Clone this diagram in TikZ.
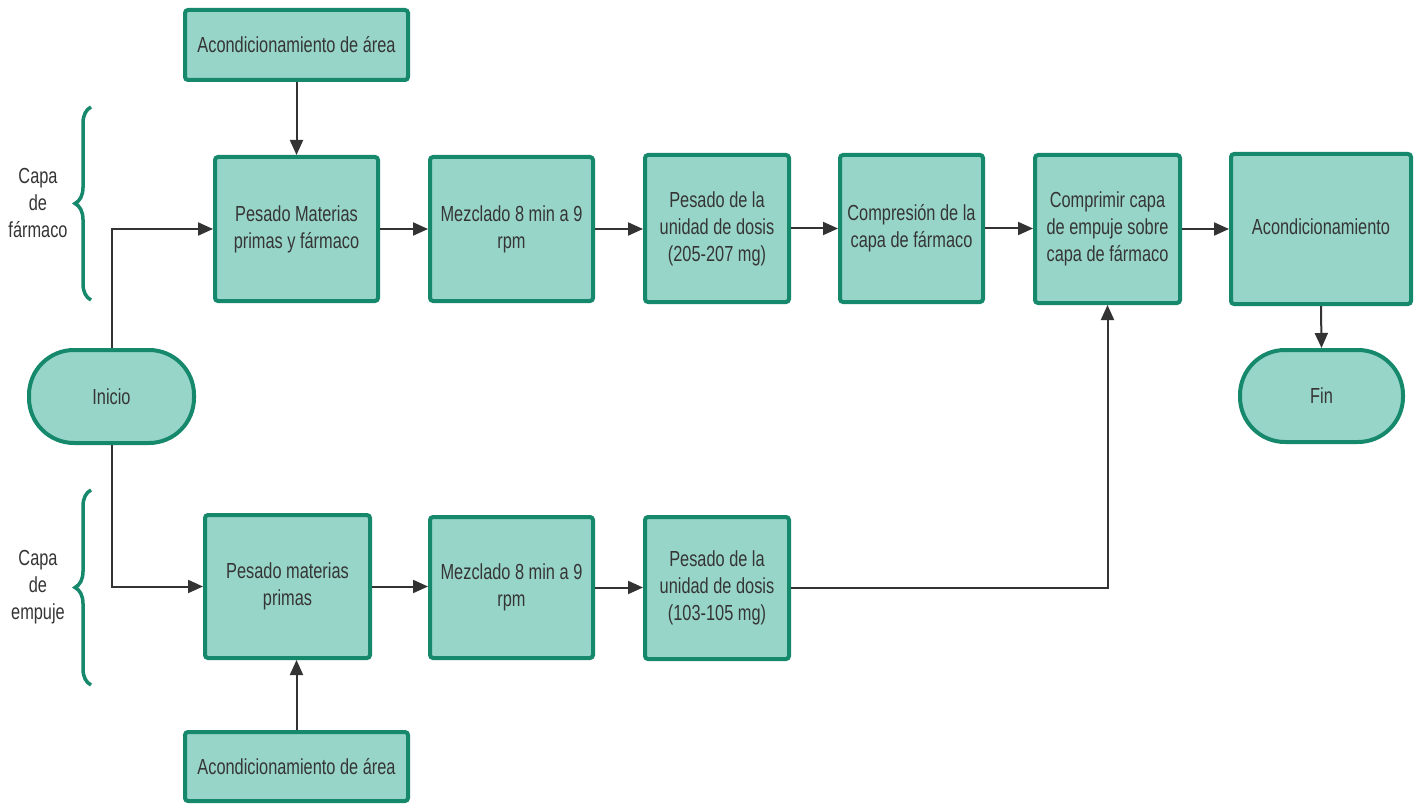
\documentclass[tikz,border=0pt]{standalone}
\usepackage{fontspec}
\setmainfont{Liberation Sans}[FakeStretch=0.75]
\usetikzlibrary{arrows.meta,decorations.pathreplacing}
\definecolor{boxfill}{HTML}{98D5C9}
\definecolor{boxline}{HTML}{16896D}
\definecolor{txt}{HTML}{353535}
\definecolor{arr}{HTML}{333333}
\begin{document}
\begin{tikzpicture}[x=1pt,y=-1pt,
  proc/.style={draw=boxline, fill=boxfill, line width=4pt, rounded corners=3pt, text=txt,
    font=\fontsize{21.8}{27}\selectfont, align=center, inner sep=0pt},
  term/.style={proc, rounded corners=45pt},
  conn/.style={draw=arr, line width=2pt, -{Triangle[length=15pt,width=13pt]}},
  brc/.style={draw=boxline, line width=3.5pt, decorate, decoration={brace, amplitude=16pt}},
  lbl/.style={text=txt, font=\fontsize{21.8}{27}\selectfont, align=center}]
\fill[white] (0,0) rectangle (1419,805);
\useasboundingbox (0,0) rectangle (1419,805);

\node[proc, minimum width=223pt, minimum height=70pt] (a1) at (296.5,45) {Acondicionamiento de área};
\node[proc, minimum width=163pt, minimum height=144pt] (p1) at (296.5,229) {Pesado Materias\\primas y fármaco};
\node[proc, minimum width=163pt, minimum height=144pt] (m1) at (511.5,229) {Mezclado 8 min a 9\\rpm};
\node[proc, minimum width=144pt, minimum height=147pt] (d1) at (717,228.5) {Pesado de la\\unidad de dosis\\(205-207 mg)};
\node[proc, minimum width=143pt, minimum height=147pt] (c1) at (911.5,228.5) {Compresión de la\\capa de fármaco};
\node[proc, minimum width=145pt, minimum height=148pt] (k1) at (1107.5,229) {Comprimir capa\\de empuje sobre\\capa de fármaco};
\node[proc, minimum width=180pt, minimum height=150pt] (ac) at (1321,229) {};
\node[lbl] (actext) at (1321,227) {Acondicionamiento};
\node[term, minimum width=163pt, minimum height=92pt] (fin) at (1321.5,396) {Fin};
\node[term, minimum width=165pt, minimum height=93pt] (ini) at (111.5,396.5) {Inicio};
\node[proc, minimum width=165pt, minimum height=143pt] (p2) at (287.5,586.5) {Pesado materias\\primas};
\node[proc, minimum width=163pt, minimum height=141pt] (m2) at (511.5,587.5) {Mezclado 8 min a 9\\rpm};
\node[proc, minimum width=144pt, minimum height=142pt] (d2) at (717,588) {Pesado de la\\unidad de dosis\\(103-105 mg)};
\node[proc, minimum width=223pt, minimum height=69pt] (a2) at (296.5,766.5) {Acondicionamiento de área};

\node[lbl] (l1) at (38,203) {Capa\\de\\fármaco};
\node[lbl] (l2) at (38,587) {Capa\\de\\empuje};
\draw[brc] (91,300) -- (91,107);
\draw[brc] (91,685) -- (91,490);

\draw[conn] (a1.south) -- (p1.north);
\draw[conn] (ini.north) |- (p1.west);
\draw[conn] (ini.south) |- (p2.west);
\draw[conn] (a2.north) -- (a2.north |- p2.south);
\draw[conn] (p1.east) -- (m1.west);
\draw[conn] (m1.east) -- (m1.east -| d1.west);
\draw[conn] (d1.east) -- (c1.west);
\draw[conn] (c1.east) -- (c1.east -| k1.west);
\draw[conn] (k1.east) -- (k1.east -| ac.west);
\draw[conn] (ac.south) -- (fin.north);
\draw[conn] (p2.east) -- (p2.east -| m2.west);
\draw[conn] (m2.east) -- (m2.east -| d2.west);
\draw[conn] (d2.east) -| (k1.south);
\end{tikzpicture}
\end{document}
